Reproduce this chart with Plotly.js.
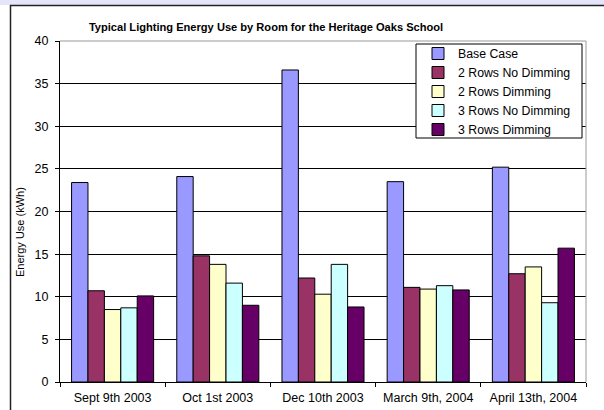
<!DOCTYPE html>
<html>
<head>
<meta charset="utf-8">
<script src="https://cdn.plot.ly/plotly-3.0.1.min.js"></script>
<style>
html,body{margin:0;padding:0;background:#fff;}
#chart{width:604px;height:410px;}
</style>
</head>
<body>
<div id="chart"></div>
<script>
var categories = ["Sept 9th 2003", "Oct 1st 2003", "Dec 10th 2003", "March 9th, 2004", "April 13th, 2004"];
var seriesNames = ["Base Case", "2 Rows No Dimming", "2 Rows Dimming", "3 Rows No Dimming", "3 Rows Dimming"];
var baseCase = [23.4, 24.1, 36.6, 23.5, 25.2];
var twoRowsNoDim = [10.7, 14.8, 12.2, 11.1, 12.7];
var twoRowsDim = [8.5, 13.8, 10.3, 10.9, 13.5];
var threeRowsNoDim = [8.7, 11.6, 13.8, 11.3, 9.3];
var threeRowsDim = [10.1, 9.0, 8.8, 10.8, 15.7];
var colors = ["#9999FF", "#993366", "#FFFFCC", "#CCFFFF", "#660066"];
var yTicks = [0, 5, 10, 15, 20, 25, 30, 35, 40];

var allValues = [baseCase, twoRowsNoDim, twoRowsDim, threeRowsNoDim, threeRowsDim];
var data = allValues.map(function (vals, i) {
  return {
    type: "bar",
    name: seriesNames[i],
    x: categories,
    y: vals,
    marker: {color: colors[i], line: {color: "#000000", width: 1}},
    hoverinfo: "x+y+name"
  };
});

// plot area in px: x 60..586, y 41..382
var L = 60, R = 586, T = 41, B = 382;
function px(x){ return (x - L) / (R - L); }
function py(y){ return (B - y) / (B - T); }

var layout = {
  width: 604, height: 410,
  margin: {l: L, r: 604 - R, t: T, b: 410 - B, pad: 0},
  paper_bgcolor: "#ffffff",
  plot_bgcolor: "#ffffff",
  font: {family: "Arial, 'Liberation Sans', sans-serif", size: 12, color: "#000000"},
  title: {
    text: "<b>Typical Lighting Energy Use by Room for the Heritage Oaks School</b>",
    font: {size: 11.1, color: "#000000"},
    xref: "container", yref: "container",
    x: 266 / 604, xanchor: "center",
    y: 1 - 27 / 410, yanchor: "middle"
  },
  barmode: "group",
  bargap: 0.22,
  bargroupgap: 0,
  showlegend: true,
  legend: {
    x: px(418), y: py(39), xanchor: "left", yanchor: "top",
    bgcolor: "rgba(0,0,0,0)", borderwidth: 0,
    font: {size: 12.3, color: "#000000"},
    tracegroupgap: 0,
    itemwidth: 30
  },
  xaxis: {
    type: "category",
    showline: true, linecolor: "#000000", linewidth: 1,
    ticks: "outside", ticklen: 4, tickcolor: "#000000",
    tickson: "boundaries",
    ticklabelstandoff: 4,
    showgrid: false, zeroline: false,
    tickfont: {size: 12.5}
  },
  yaxis: {
    range: [0, 40],
    tickvals: yTicks,
    showline: true, linecolor: "#000000", linewidth: 1,
    ticks: "outside", ticklen: 4, tickcolor: "#000000",
    ticklabelstandoff: 4,
    showgrid: true, gridcolor: "#000000", gridwidth: 1,
    zeroline: false,
    tickfont: {size: 12.5}
  },
  annotations: [
    {text: "Energy Use (kWh)", textangle: -90, showarrow: false,
     xref: "paper", yref: "paper", x: px(20), y: py(232),
     xanchor: "center", yanchor: "middle", font: {size: 11}}
  ],
  shapes: [
    {type: "rect", xref: "paper", yref: "paper", layer: "below",
     x0: px(-5), x1: px(610), y0: py(5), y1: py(-5),
     fillcolor: "#e4e4fa", line: {width: 0}},
    {type: "rect", xref: "paper", yref: "paper", layer: "below",
     x0: px(10.5), x1: px(640), y0: py(440), y1: py(5.5),
     fillcolor: "rgba(0,0,0,0)", line: {color: "#222222", width: 1.5}},
    {type: "line", xref: "paper", yref: "paper", x0: 0, x1: 1, y0: 1, y1: 1,
     line: {color: "#999999", width: 1}},
    {type: "line", xref: "paper", yref: "paper", x0: 1, x1: 1, y0: 0, y1: 1,
     line: {color: "#999999", width: 1}},
    // legend frame
    {type: "rect", xref: "paper", yref: "paper", layer: "above",
     x0: px(416), x1: px(582), y0: py(138), y1: py(44),
     fillcolor: "#ffffff", line: {color: "#000000", width: 1}}
  ]
};

Plotly.newPlot("chart", data, layout, {displayModeBar: false, staticPlot: true});
</script>
</body>
</html>
